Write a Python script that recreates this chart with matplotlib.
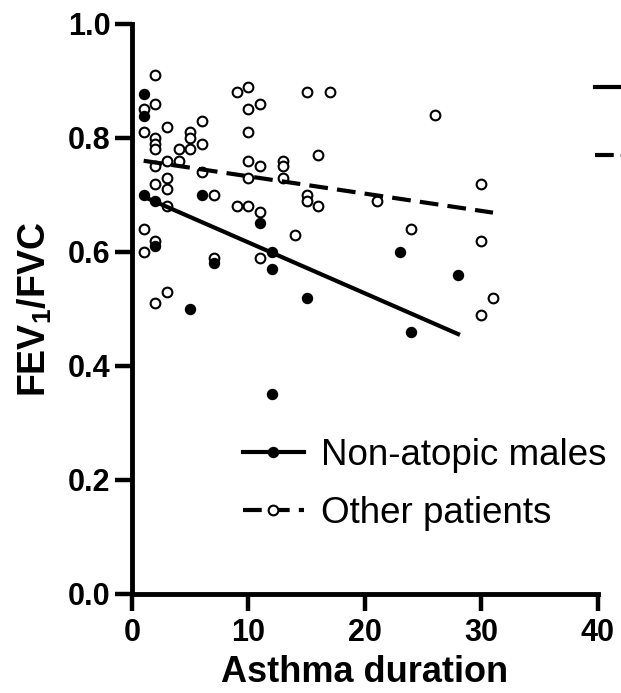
import numpy as np
import matplotlib
matplotlib.use('Agg')
import matplotlib.pyplot as plt
from matplotlib.lines import Line2D

plt.rcParams['font.family'] = ['Liberation Sans', 'DejaVu Sans']
plt.rcParams['mathtext.default'] = 'regular'

# non-atopic males (filled dots)
nam_duration = [1, 1, 1, 2, 6, 2, 7, 5, 11, 12, 12, 15, 12, 23, 28, 24]
nam_ratio = [0.878, 0.839, 0.70, 0.69, 0.70, 0.61, 0.58, 0.50, 0.65, 0.60,
             0.57, 0.52, 0.35, 0.60, 0.56, 0.46]

# other patients (open circles)
oth_duration = [1, 1, 1, 1,
                2, 2, 2, 2, 2, 2, 2, 2, 2,
                3, 3, 3, 3, 3, 3,
                4, 4,
                5, 5, 5,
                6, 6, 6,
                7, 7,
                9, 9,
                10, 10, 10, 10, 10, 10,
                11, 11, 11, 11,
                13, 13, 13,
                14,
                15, 15, 15,
                16, 16,
                17, 21, 24, 26,
                30, 30, 30, 31]
oth_ratio = [0.85, 0.81, 0.64, 0.60,
             0.91, 0.86, 0.80, 0.79, 0.78, 0.75, 0.72, 0.62, 0.51,
             0.82, 0.76, 0.73, 0.71, 0.68, 0.53,
             0.78, 0.76,
             0.81, 0.80, 0.78,
             0.83, 0.79, 0.74,
             0.70, 0.59,
             0.88, 0.68,
             0.89, 0.85, 0.81, 0.76, 0.73, 0.68,
             0.86, 0.75, 0.67, 0.59,
             0.76, 0.75, 0.73,
             0.63,
             0.88, 0.70, 0.69,
             0.77, 0.68,
             0.88, 0.69, 0.64, 0.84,
             0.72, 0.62, 0.49, 0.52]

# regression lines
nam_fit_x = [1, 28]
nam_fit_y = [0.697, 0.456]
oth_fit_x = [1, 31]
oth_fit_y = [0.760, 0.669]

series_labels = ['Non-atopic males', 'Other patients']
x_ticks = [0, 10, 20, 30, 40]
y_ticks = [0.0, 0.2, 0.4, 0.6, 0.8, 1.0]

dash = (0, (4.5, 2.2))

fig = plt.figure(figsize=(6.21, 6.93), dpi=100)
ax = fig.add_axes([0.2126, 0.1429, 0.75, 0.8225])

ax.plot(oth_duration, oth_ratio, 'o', ms=7, mfc='white', mec='black', mew=1.5,
        ls='none', zorder=3)
ax.plot(nam_duration, nam_ratio, 'o', ms=7.2, color='black', ls='none', zorder=4)
ax.plot(nam_fit_x, nam_fit_y, color='black', lw=3, zorder=5)
ax.plot(oth_fit_x, oth_fit_y, color='black', lw=3, ls=dash, zorder=5)

ax.set_xlim(0, 40)
ax.set_ylim(0, 1)
ax.set_xticks(x_ticks)
ax.set_yticks(y_ticks)
ax.set_yticklabels([f'{v:.1f}' for v in y_ticks])
ax.tick_params(width=3.2, length=12.5, labelsize=22, pad=3)
ax.tick_params(axis='x', pad=5)
plt.setp(ax.get_xticklabels(), fontweight='bold')
plt.setp(ax.get_yticklabels(), fontweight='bold')

for s in ['top', 'right']:
    ax.spines[s].set_visible(False)
for s in ['left', 'bottom']:
    ax.spines[s].set_linewidth(3.5)

ax.set_xlabel('Asthma duration', fontsize=26, fontweight='bold', labelpad=5)
ax.set_ylabel('FEV$_1$/FVC', fontsize=27, fontweight='bold', labelpad=10)

handles = [
    Line2D([], [], color='black', lw=3, marker='o', ms=7.2),
    Line2D([], [], color='black', lw=3, ls=dash, marker='o', ms=7,
           mfc='white', mec='black', mew=1.5),
]
leg_kw = dict(frameon=False, fontsize=26.5, handlelength=1.66, handletextpad=0.48,
              labelspacing=0.62, borderpad=0, borderaxespad=0, numpoints=1)
ax.legend(handles, series_labels, loc='center left',
          bbox_to_anchor=(0.2377, 0.192), **leg_kw)
# handles of the neighbouring panel's legend, cut off at the right edge
fig.legend(handles, ['', ''], loc='center left',
           bbox_to_anchor=(595 / 621, 1 - 124 / 693), labelspacing=0.9,
           **{k: v for k, v in leg_kw.items() if k != 'labelspacing'})

fig.savefig('out.png', dpi=100)
